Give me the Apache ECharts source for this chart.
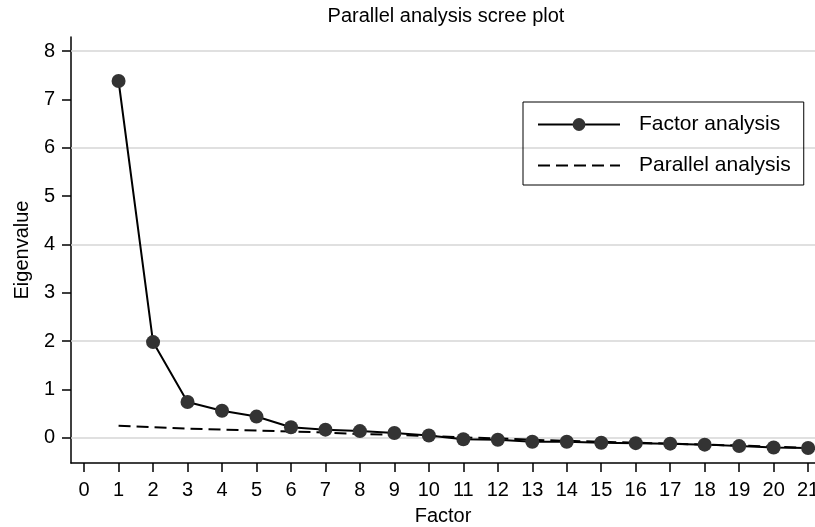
<!DOCTYPE html>
<html>
<head>
<meta charset="utf-8">
<title>Parallel analysis scree plot</title>
<script src="https://cdn.jsdelivr.net/npm/echarts@6/dist/echarts.min.js"></script>
<style>
  html, body { margin: 0; padding: 0; background: #fff; }
  #main { width: 815px; height: 527px; }
</style>
</head>
<body>
<div id="main"></div>
<script>
// factor numbers and eigenvalues
var factors = [1, 2, 3, 4, 5, 6, 7, 8, 9, 10, 11, 12, 13, 14, 15, 16, 17, 18, 19, 20, 21];
var factorEigen = [7.38, 1.98, 0.74, 0.56, 0.44, 0.22, 0.17, 0.14, 0.10, 0.05, -0.03, -0.04, -0.08, -0.08, -0.10, -0.11, -0.12, -0.14, -0.17, -0.20, -0.21];
var parallelEigen = [0.25, 0.22, 0.19, 0.17, 0.15, 0.13, 0.11, 0.08, 0.06, 0.04, 0.01, -0.01, -0.04, -0.06, -0.08, -0.10, -0.12, -0.14, -0.16, -0.18, -0.21];
var xTicks = [0, 1, 2, 3, 4, 5, 6, 7, 8, 9, 10, 11, 12, 13, 14, 15, 16, 17, 18, 19, 20, 21];
var yTicks = [0, 1, 2, 3, 4, 5, 6, 7, 8];
var gridValues = [0, 2, 4, 6, 8];

var font = "'Liberation Sans', Arial, sans-serif";

function pairs(xs, ys) {
  return xs.map(function (x, i) { return [x, ys[i]]; });
}

var chart = echarts.init(document.getElementById('main'), null, { renderer: 'canvas' });

var option = {
  backgroundColor: '#fff',
  animation: false,
  textStyle: { fontFamily: font, color: '#000' },
  title: {
    text: 'Parallel analysis scree plot',
    left: 441,
    textAlign: 'center',
    top: 1,
    textStyle: { fontFamily: font, fontSize: 20, fontWeight: 'normal', color: '#000' }
  },
  legend: {
    orient: 'vertical',
    left: 523,
    top: 102,
    padding: [12, 13, 9, 14],
    borderColor: '#000',
    borderWidth: 1,
    itemWidth: 82,
    itemHeight: 16,
    itemGap: 20,
    textStyle: { fontFamily: font, fontSize: 21, color: '#000', padding: [0, 0, 0, 14] },
    data: [
      { name: 'Factor analysis' },
      { name: 'Parallel analysis', itemStyle: { opacity: 0 } }
    ]
  },
  grid: { left: 71, right: 0, top: 37, bottom: 64, containLabel: false, outerBoundsMode: 'none' },
  xAxis: {
    type: 'value',
    min: -0.38,
    max: 21.2,
    name: 'Factor',
    nameLocation: 'middle',
    nameGap: 43,
    nameTextStyle: { fontFamily: font, fontSize: 20, color: '#000' },
    axisLine: { show: true, onZero: false, lineStyle: { color: '#000', width: 1.5 } },
    axisTick: { show: true, length: 9, customValues: xTicks, lineStyle: { color: '#000', width: 1.5 } },
    axisLabel: { customValues: xTicks, fontFamily: font, fontSize: 20, color: '#000', margin: 17 },
    splitLine: { show: false }
  },
  yAxis: {
    type: 'value',
    min: -0.52,
    max: 8.29,
    name: 'Eigenvalue',
    nameLocation: 'middle',
    nameGap: 38,
    nameTextStyle: { fontFamily: font, fontSize: 20, color: '#000' },
    axisLine: { show: true, onZero: false, lineStyle: { color: '#000', width: 1.5 } },
    axisTick: { show: true, length: 9, customValues: yTicks, lineStyle: { color: '#000', width: 1.5 } },
    axisLabel: { customValues: yTicks, fontFamily: font, fontSize: 20, color: '#000', margin: 16 },
    splitLine: { show: false }
  },
  series: [
    {
      name: 'Factor analysis',
      type: 'line',
      data: pairs(factors, factorEigen),
      symbol: 'circle',
      symbolSize: 14,
      z: 3,
      lineStyle: { color: '#000', width: 2 },
      itemStyle: { color: '#333', borderWidth: 0 },
      markLine: {
        silent: true,
        symbol: 'none',
        label: { show: false },
        lineStyle: { color: '#d6d6d6', type: 'solid', width: 1.5 },
        z: 1,
        data: gridValues.map(function (v) { return { yAxis: v }; })
      }
    },
    {
      name: 'Parallel analysis',
      type: 'line',
      data: pairs(factors, parallelEigen),
      symbol: 'none',
      z: 2,
      lineStyle: { color: '#000', width: 2, type: [12, 6] },
      itemStyle: { color: '#000' }
    }
  ]
};

chart.setOption(option);
</script>
</body>
</html>
